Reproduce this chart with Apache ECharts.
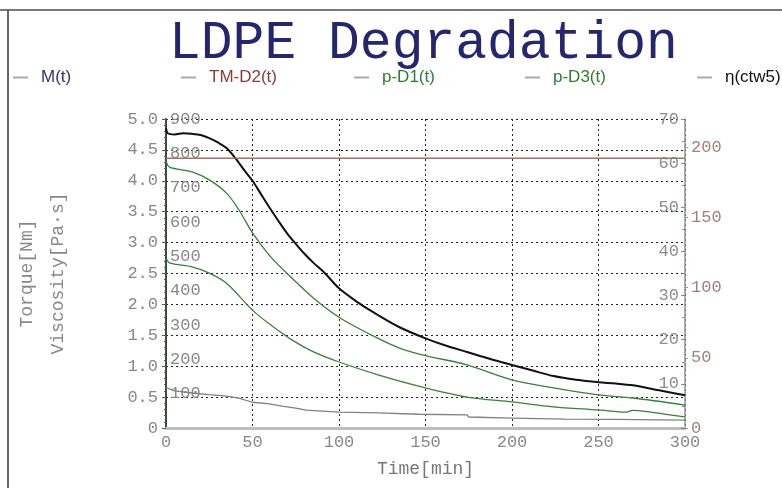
<!DOCTYPE html>
<html>
<head>
<meta charset="utf-8">
<script src="https://cdn.jsdelivr.net/npm/echarts@6/dist/echarts.min.js"></script>
<style>html,body{margin:0;padding:0;background:#fff;}#c{width:782px;height:488px;}</style>
</head>
<body>
<div id="c"></div>
<script>
// ---- data ----
const seriesNames = ['M(t)', 'TM-D2(t)', 'p-D1(t)', 'p-D3(t)', 'η(ctw5)'];
// M(t) torque [Nm]
const mTime = [0, 1, 5, 10, 15, 20, 25, 30, 35, 40, 45, 50, 55, 60, 65, 70, 75, 80, 85, 92, 100, 110, 120, 135, 150, 162, 174, 187, 200, 212, 224, 237, 250, 260, 270, 285, 300];
const mVal  = [4.85, 4.77, 4.75, 4.77, 4.76, 4.74, 4.69, 4.62, 4.53, 4.37, 4.18, 4.0, 3.78, 3.56, 3.35, 3.15, 2.98, 2.82, 2.68, 2.5, 2.26, 2.05, 1.87, 1.63, 1.45, 1.33, 1.23, 1.12, 1.02, 0.93, 0.84, 0.78, 0.74, 0.72, 0.69, 0.61, 0.53];
// TM-D2(t) (brown right axis)
const tmTime = [0, 300];
const tmVal  = [192, 192];
// p-D1(t) (green right axis)
const d1Time = [0, 2, 15, 25, 35, 42, 50, 60, 70, 85, 100, 120, 135, 150, 174, 200, 224, 250, 270, 300];
const d1Val  = [60.5, 59.1, 58.0, 56.2, 53.2, 49.5, 44.2, 39.0, 35.0, 29.5, 25.1, 20.8, 18.1, 16.4, 14.3, 10.9, 9.1, 7.5, 6.8, 5.2];
// p-D3(t) (green right axis)
const d3Time = [0, 2, 15, 25, 35, 50, 60, 73, 85, 100, 123, 146, 174, 200, 224, 250, 266, 270, 280, 300];
const d3Val  = [38.5, 37.4, 36.5, 35.1, 32.8, 26.7, 23.5, 19.9, 17.3, 14.95, 12.0, 9.5, 7.0, 5.9, 4.8, 4.1, 3.6, 4.0, 3.6, 2.5];
// η(ctw5) viscosity [Pa·s]
const etaTime = [0, 5, 15, 25, 35, 42, 50, 60, 67, 75, 81, 100, 123, 146, 174, 175, 200, 231, 260, 300];
const etaVal  = [118, 108, 102, 97, 93, 87, 75, 70, 64, 58, 52, 46, 44, 40, 38, 32, 29, 26, 25, 23];
// axis ticks
const xTicks = [0, 300, 50];
const torqueTicks = [0, 5, 0.5];
const viscTicks = [0, 900, 100];
const greenTicks = [0, 70, 10];
const brownTicks = [0, 220, 50];

const pair = (t, v) => t.map((x, i) => [x, v[i]]);
const mono = "'Liberation Mono','Courier New',monospace";
const sans = "'Liberation Sans',Arial,sans-serif";
const legendColors = ['#34346e', '#8e3a3a', '#2f7d2f', '#2f7d2f', '#111'];
const legendLeft = [8, 176, 349, 520, 692];

const chart = echarts.init(document.getElementById('c'));
const dotted = {color: '#222', width: 1, type: [2, 3]};
chart.setOption({
  animation: false,
  backgroundColor: '#fff',
  title: {
    text: 'LDPE Degradation', left: 164, top: 12,
    textStyle: {fontFamily: mono, fontSize: 53, fontWeight: 'normal', color: '#26266e'}
  },
  legend: seriesNames.map((n, i) => ({
    data: [{name: n, textStyle: {color: legendColors[i]}}],
    left: legendLeft[i], top: 64, icon: 'rect', itemWidth: 15, itemHeight: 2,
    itemStyle: {color: '#aaaaaa'}, lineStyle: {color: '#aaaaaa'},
    textStyle: {fontFamily: sans, fontSize: 17, padding: [0, 0, 0, 8]},
    selectedMode: false
  })),
  grid: {left: 166, right: 97, top: 119, bottom: 60, containLabel: false},
  xAxis: {
    type: 'value', min: xTicks[0], max: xTicks[1], interval: xTicks[2],
    name: 'Time[min]', nameLocation: 'middle', nameGap: 32,
    nameTextStyle: {fontFamily: mono, fontSize: 18, color: '#777'},
    axisLine: {lineStyle: {color: '#bdbdbd', width: 3}},
    axisTick: {show: false},
    axisLabel: {fontFamily: mono, fontSize: 17, color: '#888', margin: 6},
    splitLine: {show: true, lineStyle: dotted}
  },
  yAxis: [
    {
      type: 'value', position: 'left', min: torqueTicks[0], max: torqueTicks[1], interval: torqueTicks[2],
      name: 'Torque[Nm]', nameLocation: 'middle', nameGap: 130, nameRotate: 90,
      nameTextStyle: {fontFamily: mono, fontSize: 18, color: '#888'},
      axisLine: {show: true, lineStyle: {color: '#3b4a3b', width: 2}},
      axisTick: {show: true, length: 4, lineStyle: {color: '#555'}},
      minorTick: {show: true, splitNumber: 5, length: 2, lineStyle: {color: '#555'}},
      axisLabel: {fontFamily: mono, fontSize: 17, color: '#888', margin: 8,
        formatter: v => v === 0 ? '0' : v.toFixed(1)},
      splitLine: {show: true, lineStyle: dotted}
    },
    {
      type: 'value', position: 'left', min: viscTicks[0], max: viscTicks[1], interval: viscTicks[2],
      name: 'Viscosity[Pa·s]', nameLocation: 'middle', nameGap: 99, nameRotate: 90,
      nameTextStyle: {fontFamily: mono, fontSize: 18, color: '#888'},
      axisLine: {show: false}, axisTick: {show: false},
      axisLabel: {inside: true, showMinLabel: false, fontFamily: mono, fontSize: 17, color: '#888', margin: 4},
      splitLine: {show: false}
    },
    {
      type: 'value', position: 'right', min: greenTicks[0], max: greenTicks[1], interval: greenTicks[2],
      axisLine: {show: true, lineStyle: {color: '#8a9a8a', width: 1.5}},
      axisTick: {show: true, inside: true, length: 4, lineStyle: {color: '#888'}},
      minorTick: {show: true, splitNumber: 2, length: 3, lineStyle: {color: '#888'}},
      axisLabel: {inside: true, showMinLabel: false, fontFamily: mono, fontSize: 17, color: '#8c8c8c', margin: 6},
      splitLine: {show: false}
    },
    {
      type: 'value', position: 'right', min: brownTicks[0], max: brownTicks[1], interval: brownTicks[2],
      axisLine: {show: false},
      axisTick: {show: true, length: 3, lineStyle: {color: '#999'}},
      axisLabel: {showMaxLabel: false, fontFamily: mono, fontSize: 17, color: '#a08080', margin: 6},
      splitLine: {show: false}
    }
  ],
  series: [
    {name: seriesNames[0], type: 'line', yAxisIndex: 0, data: pair(mTime, mVal), showSymbol: false, smooth: 0.3,
      lineStyle: {color: '#111', width: 2}, itemStyle: {color: '#aaa'}},
    {name: seriesNames[1], type: 'line', yAxisIndex: 3, data: pair(tmTime, tmVal), showSymbol: false,
      lineStyle: {color: '#957474', width: 1.5}, itemStyle: {color: '#aaa'}},
    {name: seriesNames[2], type: 'line', yAxisIndex: 2, data: pair(d1Time, d1Val), showSymbol: false, smooth: 0.3,
      lineStyle: {color: '#3a7f3a', width: 1.3}, itemStyle: {color: '#aaa'}},
    {name: seriesNames[3], type: 'line', yAxisIndex: 2, data: pair(d3Time, d3Val), showSymbol: false, smooth: 0.3,
      lineStyle: {color: '#3a7f3a', width: 1.3}, itemStyle: {color: '#aaa'}},
    {name: seriesNames[4], type: 'line', yAxisIndex: 1, data: pair(etaTime, etaVal), showSymbol: false,
      lineStyle: {color: '#808080', width: 1.3}, itemStyle: {color: '#aaa'}}
  ],
  graphic: [
    {type: 'line', shape: {x1: 0, y1: 10, x2: 782, y2: 10}, style: {stroke: '#777', lineWidth: 2}},
    {type: 'line', shape: {x1: 8, y1: 10, x2: 8, y2: 488}, style: {stroke: '#666', lineWidth: 2}}
  ]
});
</script>
</body>
</html>
